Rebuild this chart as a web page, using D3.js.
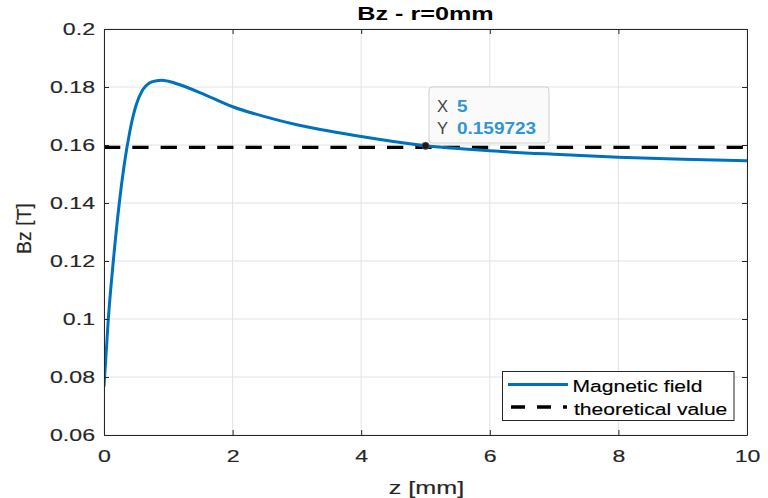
<!DOCTYPE html>
<html><head><meta charset="utf-8">
<script src="https://cdn.jsdelivr.net/npm/d3@7"></script>
<style>
html,body{margin:0;padding:0;background:#fff;}
svg{display:block;font-family:"Liberation Sans",Arial,Helvetica,sans-serif;}
svg text{stroke-width:0.15px;}
</style></head>
<body>
<svg id="chart" width="768" height="498"></svg>
<script>
// ---- data ----
const zValues = [0, 0.067, 0.145, 0.238, 0.31, 0.40, 0.50, 0.60, 0.70, 0.80, 0.90, 1.0, 1.2, 1.5, 2, 2.5, 3, 3.5, 4, 4.5, 5, 5.5, 6, 7, 8, 9, 10];
const bzValues = [0.0767, 0.100, 0.120, 0.140, 0.1525, 0.1645, 0.1738, 0.1790, 0.1813, 0.1821, 0.1823, 0.1820, 0.1806, 0.1780, 0.1732, 0.1698, 0.1670, 0.1648, 0.1629, 0.1612, 0.15972, 0.1588, 0.1580, 0.1568, 0.1558, 0.1551, 0.1546];
const theoreticalValue = 0.1592;
const xTicks = [0, 2, 4, 6, 8, 10];
const xTickLabels = ["0", "2", "4", "6", "8", "10"];
const yTicks = [0.06, 0.08, 0.10, 0.12, 0.14, 0.16, 0.18, 0.20];
const yTickLabels = ["0.06", "0.08", "0.1", "0.12", "0.14", "0.16", "0.18", "0.2"];
const datatipX = 5;
const datatipY = 0.159723;
const seriesNames = ["Magnetic field", "theoretical value"];
const titleText = "Bz - r=0mm";
const xLabelText = "z [mm]";
const yLabelText = "Bz [T]";

// ---- layout ----
const L = 104, R = 747, T = 29, B = 435;
const svg = d3.select("#chart");
const x = d3.scaleLinear().domain([0, 10]).range([L, R]);
const y = d3.scaleLinear().domain([0.06, 0.2]).range([B, T]);
const axisColor = "#262626";

function stretch(sel, s) {
  sel.each(function () {
    const t = d3.select(this);
    const tx = +t.attr("x") || 0, ty = +t.attr("y") || 0;
    t.attr("x", null).attr("y", null)
     .attr("transform", `translate(${tx},${ty}) scale(${s},1)`);
  });
}

// grid
const grid = svg.append("g");
grid.selectAll("line.gx").data(xTicks).join("line")
  .attr("x1", d => x(d)).attr("x2", d => x(d)).attr("y1", T).attr("y2", B)
  .attr("stroke", "#e2e2e2").attr("stroke-width", 1);
grid.selectAll("line.gy").data(yTicks).join("line")
  .attr("x1", L).attr("x2", R).attr("y1", d => y(d)).attr("y2", d => y(d))
  .attr("stroke", "#e2e2e2").attr("stroke-width", 1);

// clip
svg.append("clipPath").attr("id", "clip").append("rect")
  .attr("x", L).attr("y", T).attr("width", R - L).attr("height", B - T);

// theoretical dashed line
svg.append("line")
  .attr("clip-path", "url(#clip)")
  .attr("x1", x(0)).attr("x2", x(10))
  .attr("y1", y(theoreticalValue)).attr("y2", y(theoreticalValue))
  .attr("stroke", "#000").attr("stroke-width", 3.3)
  .attr("stroke-dasharray", "16.3,12");

// curve
const pts = zValues.map((z, i) => [z, bzValues[i]]);
svg.append("path").datum(pts)
  .attr("clip-path", "url(#clip)")
  .attr("fill", "none").attr("stroke", "#0072BD").attr("stroke-width", 3)
  .attr("stroke-linejoin", "round")
  .attr("d", d3.line().x(d => x(d[0])).y(d => y(d[1])).curve(d3.curveMonotoneX));

// axes
const TICK_S = 1.36;
const axB = svg.append("g").attr("transform", `translate(0,${B})`)
  .call(d3.axisBottom(x).tickValues(xTicks).tickFormat((d, i) => xTickLabels[i])
    .tickSizeInner(-5).tickSizeOuter(0).tickPadding(15));
const axL = svg.append("g").attr("transform", `translate(${L},0)`)
  .call(d3.axisLeft(y).tickValues(yTicks).tickFormat((d, i) => yTickLabels[i])
    .tickSizeInner(-5).tickSizeOuter(0).tickPadding(9));
const axT = svg.append("g").attr("transform", `translate(0,${T})`)
  .call(d3.axisTop(x).tickValues(xTicks).tickFormat("").tickSizeInner(-5).tickSizeOuter(0));
const axR = svg.append("g").attr("transform", `translate(${R},0)`)
  .call(d3.axisRight(y).tickValues(yTicks).tickFormat("").tickSizeInner(-5).tickSizeOuter(0));
[axB, axL, axT, axR].forEach(a => {
  a.select(".domain").attr("stroke", axisColor).attr("stroke-width", 1);
  a.selectAll(".tick line").attr("stroke", axisColor);
  a.selectAll(".tick text").attr("fill", axisColor).attr("stroke", axisColor)
    .style("font-size", "17px").style("font-family", '"Liberation Sans",Arial,sans-serif');
});
stretch(axB.selectAll(".tick text"), TICK_S);
stretch(axL.selectAll(".tick text"), TICK_S);

// title & labels
svg.append("text").attr("x", (L + R) / 2).attr("y", 20)
  .attr("text-anchor", "middle").attr("font-weight", "bold").attr("font-size", 18)
  .attr("fill", "#000").text(titleText).call(stretch, 1.4);
svg.append("text").attr("x", 426.5).attr("y", 494)
  .attr("text-anchor", "middle").attr("font-size", 18)
  .attr("fill", axisColor).attr("stroke", axisColor).text(xLabelText).call(stretch, 1.4);
svg.append("text")
  .attr("transform", "translate(31,228.5) rotate(-90)")
  .attr("text-anchor", "middle").attr("font-size", 19.5)
  .attr("fill", axisColor).attr("stroke", axisColor).text(yLabelText);

// datatip
svg.append("circle").attr("cx", x(datatipX)).attr("cy", y(datatipY)).attr("r", 3.6)
  .attr("fill", "#1a1a1a").attr("stroke", "#555").attr("stroke-width", 0.8);
const tip = svg.append("g");
tip.append("rect").attr("x", 429).attr("y", 87).attr("width", 120).attr("height", 56)
  .attr("rx", 3).attr("fill", "#fafafa").attr("stroke", "#cfcfcf").attr("stroke-width", 1);
tip.append("text").attr("x", 437).attr("y", 112).attr("font-size", 16.5).attr("fill", "#444")
  .text("X").call(stretch, 1.0);
tip.append("text").attr("x", 457).attr("y", 112).attr("font-size", 16.5).attr("font-weight", "bold")
  .attr("fill", "#2f95d6").text(String(datatipX)).call(stretch, 1.15);
tip.append("text").attr("x", 437).attr("y", 133.5).attr("font-size", 16.5).attr("fill", "#444")
  .text("Y").call(stretch, 1.0);
tip.append("text").attr("x", 457).attr("y", 133.5).attr("font-size", 16.5).attr("font-weight", "bold")
  .attr("fill", "#2f95d6").text(String(datatipY)).call(stretch, 1.15);

// legend
const lg = svg.append("g");
lg.append("rect").attr("x", 502.5).attr("y", 371.5).attr("width", 231.5).attr("height", 49)
  .attr("fill", "#fff").attr("stroke", axisColor).attr("stroke-width", 1);
lg.append("line").attr("x1", 508).attr("x2", 568).attr("y1", 384.5).attr("y2", 384.5)
  .attr("stroke", "#0072BD").attr("stroke-width", 3);
lg.append("line").attr("x1", 511).attr("x2", 567).attr("y1", 407).attr("y2", 407)
  .attr("stroke", "#000").attr("stroke-width", 3.3).attr("stroke-dasharray", "14,12");
lg.append("text").attr("x", 572.5).attr("y", 392).attr("font-size", 17).attr("fill", "#000")
  .attr("stroke", "#000").text(seriesNames[0]).call(stretch, 1.24);
lg.append("text").attr("x", 574).attr("y", 415).attr("font-size", 17).attr("fill", "#000")
  .attr("stroke", "#000").text(seriesNames[1]).call(stretch, 1.24);
</script>
</body></html>
